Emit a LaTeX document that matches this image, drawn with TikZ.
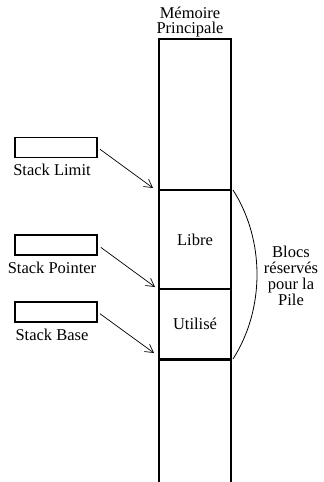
\documentclass[tikz,border=0pt]{standalone}
\usepackage{fontspec}
\setmainfont{Liberation Serif}
\usetikzlibrary{arrows.meta,positioning}
\tikzset{
  case/.style={draw,line width=1.3pt,minimum width=72pt,inner sep=0pt},
  reg/.style={draw,line width=1.2pt,minimum width=82pt,minimum height=20pt,inner sep=0pt},
  etiq/.style={inner sep=0pt,font=\fontsize{16.5}{15}\selectfont},
  fleche/.style={line width=0.7pt,-{Straight Barb[length=8pt,width=9pt]}}
}
\begin{document}
\begin{tikzpicture}[x=1pt,y=-1pt]
\useasboundingbox (0,0) rectangle (324,482);
% la memoire
\draw[line width=1.3pt] (159,482)--(159,39)--(231,39)--(231,482);
\node[etiq,above,align=center,inner sep=1pt] (memoire) at (190,38) {Mémoire\\Principale};
\node[case,minimum height=99pt,etiq] (libre) at (195,239.5) {Libre};
\node[case,minimum height=70pt,etiq] (utilise) at (195,324) {Utilisé};
\draw[line width=2pt] (utilise.south west)--(utilise.south east);
% les registres
\node[reg] (limite) at (56,147.5) {};
\node[reg] (pointeur) at (56,245) {};
\node[reg] (base) at (56,312) {};
\node[etiq,below=6pt of limite,xshift=-4pt] (limitelbl) {Stack Limit};
\node[etiq,below=6pt of pointeur,xshift=-4pt] (pointeurlbl) {Stack Pointer};
\node[etiq,below=6pt of base,xshift=-4pt] (baselbl) {Stack Base};
\coordinate (plimite) at (153,188);
\coordinate (ppointeur) at (155,287);
\coordinate (pbase) at (154,353);
\draw[fleche,shorten <=3pt] (limite.east)--(plimite);
\draw[fleche,shorten <=4pt] (pointeur.east)--(ppointeur);
\draw[fleche,shorten <=3pt] (base.east)--(pbase);
% l'accolade
\coordinate (haut) at (233,190);
\coordinate (bas) at (233,359);
\draw[line width=0.8pt] (haut) .. controls (265,240) and (265,309) .. (bas);
\node[etiq,align=center,font=\fontsize{16.5}{16}\selectfont] (blocs) at (291,276) {Blocs\\réservés\\pour la\\Pile};
\end{tikzpicture}
\end{document}
